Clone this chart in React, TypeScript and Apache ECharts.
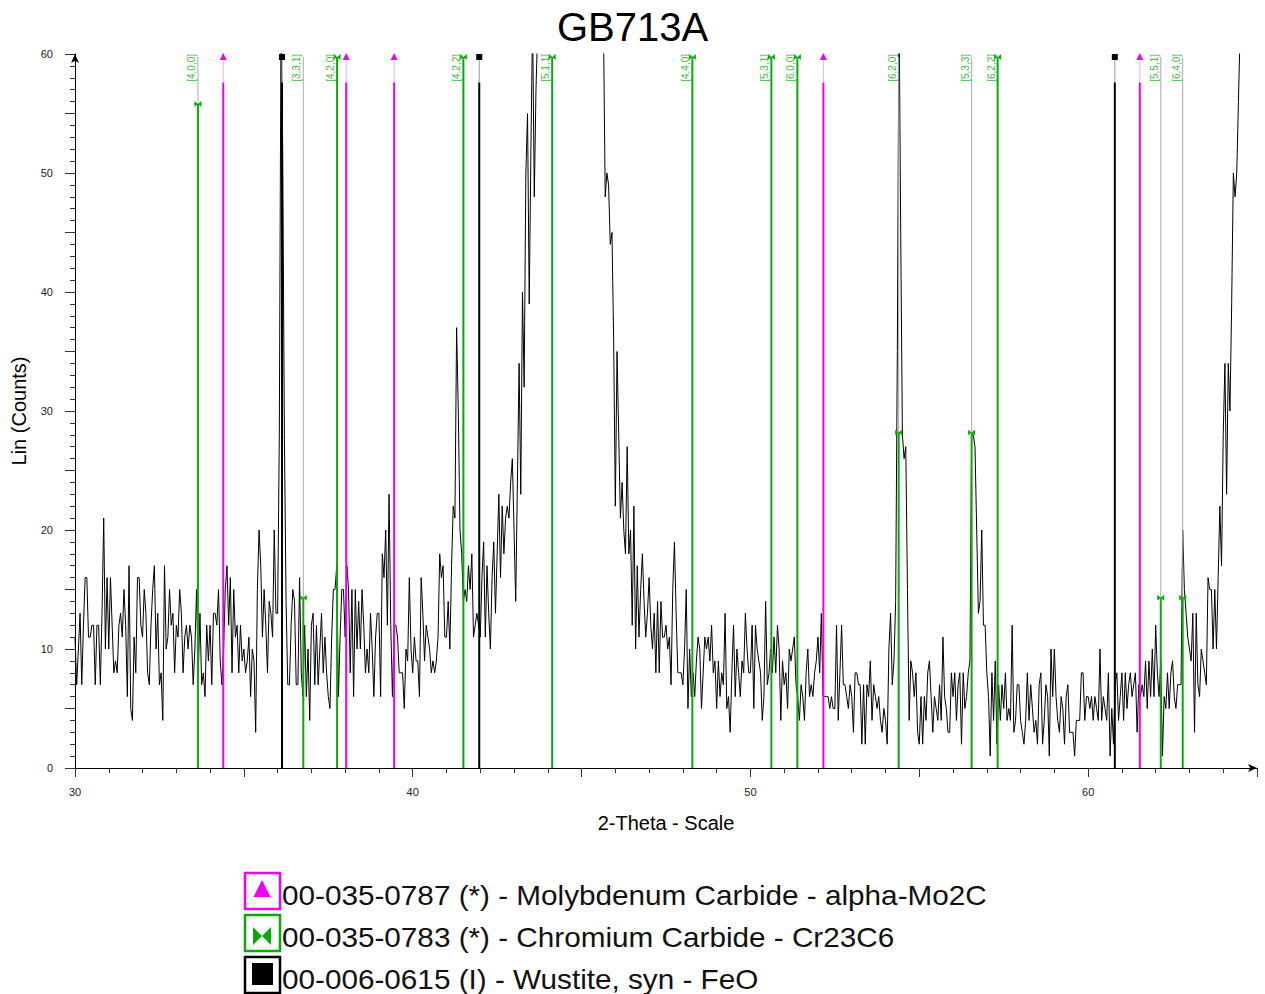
import React, { useEffect, useRef } from "react";
import * as echarts from "echarts";

// 2-Theta scan: start 30°, step 0.05°, one row per degree
const scanStart = 30;
const scanStep = 0.05;
const r30 = [11,7,10,13,7,12,16,16,11,11,12,12,7,12,12,7,13,21,10,16];
const r31 = [10,16,12,8,9,8,12,13,11,15,12,6,17,5,4,11,8,16,16,12];
const r32 = [11,15,13,8,7,12,15,17,10,13,7,8,4,17,10,11,15,12,13,8];
const r33 = [12,11,15,13,8,11,12,10,12,11,7,10,15,8,13,7,8,6,12,9];
const r34 = [12,7,13,13,12,15,9,7,10,15,17,12,16,8,15,11,12,8,12,9];
const r35 = [10,8,9,11,6,10,9,3,15,20,17,11,15,12,8,14,13,11,20,13];
const r36 = [13,28,63,52,28,14,7,7,12,15,14,7,7,16,8,6,12,6,10,4];
const r37 = [12,13,7,12,7,10,13,8,11,8,6,5,11,15,15,17,6,11,15,15];
const r38 = [11,17,15,8,15,6,15,10,14,10,15,12,8,10,8,13,10,6,11,13];
const r39 = [13,6,18,16,20,12,23,12,6,12,12,11,8,8,8,5,10,9,16,10];
const r40 = [8,11,9,9,6,16,13,9,12,11,10,8,9,8,9,11,18,16,17,11];
const r41 = [11,14,10,17,22,21,37,30,20,18,14,15,14,17,15,18,11,12,13,12];
const r42 = [11,16,19,11,17,13,10,16,19,13,18,23,16,22,18,21,22,21,24,26];
const r43 = [20,14,24,34,23,40,32,50,55,39,52,63,48,57,62,75,90,110,130,150];
const r44 = [170,200,230,260,290,320,340,350,340,320,300,270,240,210,180,160,140,120,110,100];
const r45 = [95,90,85,80,76,72,70,68,66,65,64,63,62,62,48,50,49,44,45,36];
const r46 = [22,35,28,21,24,20,18,27,18,20,12,22,10,17,11,15,18,14,11,13];
const r47 = [16,12,10,13,8,14,8,14,11,11,12,10,11,7,15,19,13,8,8,8];
const r48 = [7,10,15,5,10,6,8,6,9,11,10,5,8,11,10,11,9,12,8,9];
const r49 = [5,9,6,8,7,13,5,6,3,8,12,6,10,8,6,9,8,13,10,8];
const r50 = [8,12,5,12,10,9,8,4,6,14,7,8,10,8,11,8,12,10,4,9];
const r51 = [7,8,5,10,9,10,11,7,6,4,7,6,4,8,10,6,7,6,8,9];
const r52 = [11,8,13,6,6,6,6,5,6,5,5,12,4,8,12,7,7,6,5,7];
const r53 = [6,3,8,8,7,7,2,7,2,7,6,9,4,7,6,5,6,4,3,5];
const r54 = [4,2,10,13,7,9,14,35,65,45,28,26,27,15,4,9,8,6,8,3];
const r55 = [2,6,2,6,4,8,9,6,3,6,5,4,7,4,11,6,5,3,3,8];
const r56 = [6,8,4,7,8,2,8,5,6,8,9,28,28,27,20,13,14,20,12,12];
const r57 = [8,6,1,8,4,9,2,7,4,7,5,8,4,5,4,12,3,4,7,7];
const r58 = [4,3,2,4,8,4,7,5,3,4,2,7,8,2,4,7,6,1,10,6];
const r59 = [10,6,4,3,6,5,2,6,7,3,3,3,1,4,4,4,8,8,4,6];
const r60 = [6,5,6,4,6,5,4,10,4,6,5,4,8,1,5,2,7,8,4,6];
const r61 = [8,4,8,5,7,8,6,7,8,3,7,6,7,6,9,5,9,6,10,6];
const r62 = [12,8,6,9,1,6,5,8,5,8,9,6,5,7,7,7,20,15,13,11];
const r63 = [10,9,13,3,13,7,6,10,9,8,7,16,15,15,10,15,10,16,22,17];
const r64 = [28,34,23,34,30,39,50,48,50,56,62,68,75,82,90,98,108,118,128,140];
const r65 = [150];

// Reference patterns (2θ positions, stick heights in counts)
const mo2cPos = [34.39, 38.03, 39.45, 52.16, 61.53];
const mo2cHeight = [57.6, 57.6, 57.6, 57.6, 57.6];
const feoPos = [36.13, 41.97, 60.79];
const feoHeight = [57.6, 57.6, 57.6];
const crPos = [33.64, 36.76, 37.76, 41.5, 44.13, 48.28, 50.62, 51.39, 54.39, 56.55, 57.32, 62.15, 62.8];
const crHeight = [55.8, 14.3, 70, 70, 70, 70, 70, 70, 28.2, 28.2, 70, 14.3, 14.3];
const crHkl = ["[4,0,0]", "[3,3,1]", "[4,2,0]", "[4,2,2]", "[5,1,1]", "[4,4,0]", "[5,3,1]", "[6,0,0]", "[6,2,0]", "[5,3,3]", "[6,2,2]", "[5,5,1]", "[6,4,0]"];

const legendItems = [
  "00-035-0787 (*) - Molybdenum Carbide - alpha-Mo2C",
  "00-035-0783 (*) - Chromium Carbide - Cr23C6",
  "00-006-0615 (I) - Wustite, syn - FeO",
];

const FONT = "'Liberation Sans', Arial, sans-serif";
const MAGENTA = "#f000f0";
const GREEN = "#0aa80a";
const LABEL_GREEN = "#3cbb3c";

export default function App() {
  const ref = useRef<HTMLDivElement>(null);
  useEffect(() => {
    if (!ref.current) return;
    const chart = echarts.init(ref.current, null, { renderer: "svg" });
    const counts = [
      ...r30, ...r31, ...r32, ...r33, ...r34, ...r35, ...r36, ...r37, ...r38, ...r39,
      ...r40, ...r41, ...r42, ...r43, ...r44, ...r45, ...r46, ...r47, ...r48, ...r49,
      ...r50, ...r51, ...r52, ...r53, ...r54, ...r55, ...r56, ...r57, ...r58, ...r59,
      ...r60, ...r61, ...r62, ...r63, ...r64, ...r65,
    ];
    const scan = counts.map((c, i) => [+(scanStart + i * scanStep).toFixed(2), c]);
    const TOP = 59.75;

    const stickSeries = (
      name: string,
      pos: number[],
      heights: number[],
      color: string,
      pale: string,
      marker: "tri" | "sq" | "bow",
      labels?: string[]
    ) => ({
      type: "custom",
      name,
      z: 5,
      clip: false,
      silent: true,
      data: pos.map((p, i) => [p, heights[i], i]),
      renderItem: (params: any, api: any) => {
        const x = api.value(0);
        const h = api.value(1);
        const idx = api.value(2);
        const base = api.coord([x, 0]);
        const tip = api.coord([x, Math.min(h, TOP)]);
        const top = api.coord([x, TOP]);
        const children: any[] = [];
        if (h < TOP) {
          children.push({
            type: "line",
            shape: { x1: tip[0], y1: tip[1], x2: top[0], y2: top[1] },
            style: { stroke: pale, lineWidth: 1 },
          });
        }
        children.push({
          type: "line",
          shape: { x1: base[0], y1: base[1], x2: tip[0], y2: tip[1] },
          style: { stroke: color, lineWidth: 2 },
        });
        const m = marker === "bow" && h < TOP ? tip : top;
        const mx = m[0];
        const my = m[1];
        if (marker === "tri") {
          children.push({
            type: "polygon",
            shape: { points: [[mx, my - 4], [mx - 3.5, my + 3], [mx + 3.5, my + 3]] },
            style: { fill: color },
          });
        } else if (marker === "sq") {
          children.push({ type: "rect", shape: { x: mx - 3, y: my - 3, width: 6, height: 6 }, style: { fill: color } });
        } else {
          children.push({
            type: "polygon",
            shape: { points: [[mx - 3.5, my - 3], [mx - 3.5, my + 3], [mx, my]] },
            style: { fill: color },
          });
          children.push({
            type: "polygon",
            shape: { points: [[mx + 3.5, my - 3], [mx + 3.5, my + 3], [mx, my]] },
            style: { fill: color },
          });
        }
        if (labels) {
          children.push({
            type: "text",
            x: top[0] - 1.5,
            y: top[1] - 3,
            rotation: Math.PI / 2,
            style: {
              text: labels[idx],
              fill: LABEL_GREEN,
              font: `10px ${FONT}`,
              align: "right",
              verticalAlign: "bottom",
            },
          });
        }
        return { type: "group", children };
      },
    });

    const legendY = [873, 915, 957];
    const legendColors = [MAGENTA, GREEN, "#000"];
    const graphics: any[] = [];
    legendItems.forEach((t, i) => {
      const y = legendY[i];
      graphics.push({
        type: "rect",
        shape: { x: 245, y, width: 35, height: 36 },
        style: { fill: "#fff", stroke: legendColors[i], lineWidth: 2.5 },
      });
      if (i === 0) {
        graphics.push({
          type: "polygon",
          shape: { points: [[262, y + 7], [253.5, y + 24], [270.5, y + 24]] },
          style: { fill: MAGENTA },
        });
      } else if (i === 1) {
        graphics.push({
          type: "polygon",
          shape: { points: [[253, y + 12], [253, y + 30], [262, y + 21]] },
          style: { fill: GREEN },
        });
        graphics.push({
          type: "polygon",
          shape: { points: [[271, y + 12], [271, y + 30], [262, y + 21]] },
          style: { fill: GREEN },
        });
      } else {
        graphics.push({
          type: "rect",
          shape: { x: 252, y: y + 6, width: 21, height: 22 },
          style: { fill: "#000" },
        });
      }
      graphics.push({
        type: "text",
        x: 282,
        y: y + 22,
        scaleX: 1.1,
        style: {
          text: t,
          fill: "#111",
          font: `27px ${FONT}`,
          verticalAlign: "middle",
          align: "left",
        },
      });
    });

    chart.setOption({
      animation: false,
      title: {
        text: "GB713A",
        left: "center",
        top: 2,
        textStyle: { fontSize: 40, fontWeight: "normal", color: "#000", fontFamily: FONT },
      },
      grid: { left: 75, right: 8, top: 54, bottom: 226, containLabel: false },
      xAxis: {
        type: "value",
        min: 30,
        max: 65,
        interval: 5,
        name: "2-Theta - Scale",
        nameLocation: "middle",
        nameGap: 45,
        nameTextStyle: { fontSize: 20, color: "#000", fontFamily: FONT },
        axisLine: {
          show: true,
          symbol: ["none", "arrow"],
          symbolSize: [6, 9],
          lineStyle: { color: "#000", width: 1 },
        },
        axisTick: { show: true, length: 9, lineStyle: { color: "#333" } },
        minorTick: { show: true, splitNumber: 5, length: 5, lineStyle: { color: "#333" } },
        axisLabel: {
          margin: 18,
          fontSize: 11,
          color: "#222",
          fontFamily: FONT,
          formatter: (v: number) => (v % 10 === 0 ? String(v) : ""),
        },
        splitLine: { show: false },
      },
      yAxis: {
        type: "value",
        min: 0,
        max: 60,
        interval: 5,
        name: "Lin (Counts)",
        nameLocation: "middle",
        nameGap: 46,
        nameTextStyle: { fontSize: 20, color: "#000", fontFamily: FONT },
        axisLine: {
          show: true,
          symbol: ["none", "arrow"],
          symbolSize: [6, 9],
          lineStyle: { color: "#000", width: 1 },
        },
        axisTick: { show: true, length: 10, lineStyle: { color: "#333" } },
        minorTick: { show: true, splitNumber: 5, length: 5, lineStyle: { color: "#333" } },
        axisLabel: {
          margin: 22,
          fontSize: 11,
          color: "#222",
          fontFamily: FONT,
          formatter: (v: number) => (v % 10 === 0 ? String(v) : ""),
        },
        splitLine: { show: false },
      },
      graphic: graphics,
      series: [
        {
          type: "line",
          name: "GB713A",
          data: scan,
          showSymbol: false,
          symbol: "none",
          clip: true,
          z: 3,
          lineStyle: { color: "#000", width: 1 },
        },
        stickSeries("Mo2C", mo2cPos, mo2cHeight, MAGENTA, "#f5a8f5", "tri"),
        stickSeries("FeO", feoPos, feoHeight, "#000", "#999", "sq"),
        stickSeries("Cr23C6", crPos, crHeight, GREEN, "#aaa", "bow", crHkl),
      ],
    });
    return () => chart.dispose();
  }, []);
  return (
    <div
      ref={ref}
      style={{ position: "absolute", left: 0, top: 0, width: 1265, height: 994, background: "#fff" }}
    />
  );
}
